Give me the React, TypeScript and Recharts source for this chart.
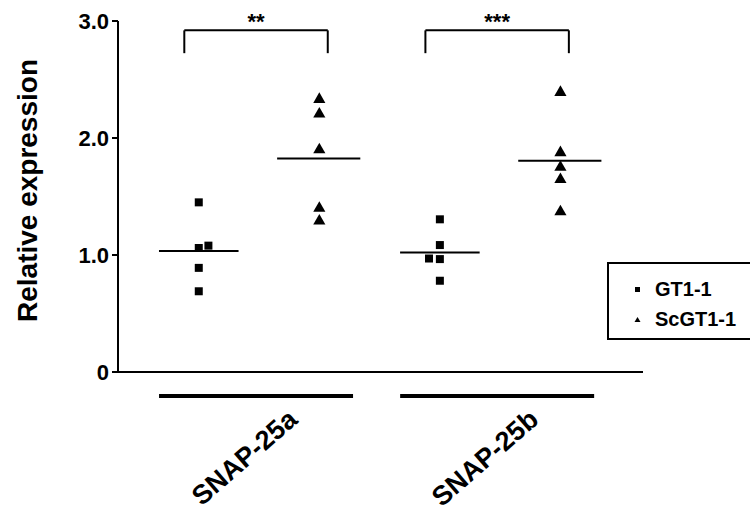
import React from "react";
import {
  ScatterChart,
  Scatter,
  XAxis,
  YAxis,
  ReferenceLine,
  ReferenceDot,
  Legend,
} from "recharts";

// ---- data ----
const categories = ["SNAP-25a", "SNAP-25b"];
const seriesNames = ["GT1-1", "ScGT1-1"];
const gt1Values = [
  [1.45, 1.06, 1.08, 0.89, 0.69],
  [1.305, 1.085, 0.965, 0.97, 0.78],
];
const scgt1Values = [
  [2.33, 2.205, 1.9, 1.4, 1.29],
  [2.39, 1.875, 1.75, 1.645, 1.37],
];
const gt1Jitter = [
  [0, 0, 0.08, 0, 0],
  [0, 0, 0, -0.09, 0],
];
const significance = ["**", "***"];
const yTicks = [0, 1, 2, 3];

// ---- layout helpers ----
const FONT = "'Liberation Sans', Arial, Helvetica, sans-serif";
const groupX = (g: number, s: number) => 1 + 2 * g + s;
const mean = (a: number[]) => a.reduce((p, c) => p + c, 0) / a.length;

const gt1Points = gt1Values.flatMap((vals, g) =>
  vals.map((v, i) => ({ x: groupX(g, 0) + gt1Jitter[g][i], y: v }))
);
const scgt1Points = scgt1Values.flatMap((vals, g) =>
  vals.map((v) => ({ x: groupX(g, 1), y: v }))
);
const categoryTicks = categories.map((_, g) => (groupX(g, 0) + groupX(g, 1)) / 2);

const BRACKET_TOP = 2.92;
const BRACKET_BOTTOM = 2.725;

const CategoryTick = (props: any) => {
  const { x, y, payload } = props;
  const idx = categoryTicks.findIndex((t) => Math.abs(t - payload.value) < 1e-6);
  const label = categories[idx] ?? "";
  const ax = x + 40;
  const ay = y + 50;
  return (
    <g>
      <line x1={x - 100} x2={x + 94} y1={y + 24} y2={y + 24} stroke="#000" strokeWidth={4} />
      <text
        x={ax}
        y={ay}
        textAnchor="end"
        transform={`rotate(-41 ${ax} ${ay})`}
        fontFamily={FONT}
        fontWeight="bold"
        fontSize={27}
        fill="#000"
      >
        {label}
      </text>
    </g>
  );
};

const YLabel = (props: any) => {
  const vb = props.viewBox || { x: 0, y: 0, width: 0, height: 0 };
  const cx = 27;
  const cy = vb.y + vb.height / 2 - 6;
  return (
    <text
      x={cx}
      y={cy}
      textAnchor="middle"
      dominantBaseline="central"
      transform={`rotate(-90 ${cx} ${cy})`}
      fontFamily={FONT}
      fontWeight="bold"
      fontSize={28}
      fill="#000"
    >
      Relative expression
    </text>
  );
};

const LegendBox = () => (
  <div
    style={{
      width: 160,
      height: 78,
      border: "2px solid #000",
      boxSizing: "border-box",
      fontFamily: FONT,
      fontWeight: "bold",
      fontSize: 20,
      color: "#000",
      paddingTop: 10,
      paddingLeft: 22,
      lineHeight: "30px",
      background: "#fff",
    }}
  >
    {seriesNames.map((n, i) => (
      <div key={n} style={{ display: "flex", alignItems: "center" }}>
        <svg width={24} height={20} style={{ display: "block" }}>
          {i === 0 ? (
            <rect x={4} y={8} width={5} height={5} fill="#000" />
          ) : (
            <polygon points="6.5,8 9.5,13 3.5,13" fill="#000" />
          )}
        </svg>
        <span>{n}</span>
      </div>
    ))}
  </div>
);

export default function App() {
  return (
    <div style={{ position: "absolute", left: 0, top: 0, width: 750, height: 514, background: "#fff" }}>
      <ScatterChart
        width={750}
        height={514}
        margin={{ top: 21, right: 107, bottom: 12, left: 0 }}
      >
        <XAxis
          type="number"
          dataKey="x"
          domain={[0.33, 4.685]}
          ticks={categoryTicks}
          tick={<CategoryTick />}
          tickLine={false}
          tickSize={0}
          tickMargin={0}
          axisLine={{ stroke: "#000", strokeWidth: 2 }}
          height={130}
          allowDataOverflow
          interval={0}
        />
        <YAxis
          type="number"
          dataKey="y"
          domain={[0, 3]}
          ticks={yTicks}
          width={118}
          tickFormatter={(v: number) => (v === 0 ? "0" : v.toFixed(1))}
          tick={{ fill: "#000", fontFamily: FONT, fontWeight: "bold", fontSize: 22 }}
          tickLine={{ stroke: "#000", strokeWidth: 2 }}
          tickSize={6}
          tickMargin={3}
          axisLine={{ stroke: "#000", strokeWidth: 2 }}
          label={<YLabel />}
        />
        <Legend
          content={<LegendBox />}
          layout="vertical"
          verticalAlign="middle"
          align="center"
          wrapperStyle={{ position: "absolute", left: 607, top: 262, width: 160 }}
        />
        {categories.map((c, g) => {
          const mGt = mean(gt1Values[g]);
          const mSc = mean(scgt1Values[g]);
          const x0 = groupX(g, 0);
          const x1 = groupX(g, 1);
          const bl = x0 - 0.12;
          const br = x1 + 0.07;
          return (
            <React.Fragment key={c}>
              <ReferenceLine
                segment={[{ x: x0 - 0.33, y: mGt }, { x: x0 + 0.33, y: mGt }]}
                stroke="#000"
                strokeWidth={2}
              />
              <ReferenceLine
                segment={[{ x: x1 - 0.35, y: mSc }, { x: x1 + 0.34, y: mSc }]}
                stroke="#000"
                strokeWidth={2}
              />
              <ReferenceLine segment={[{ x: bl, y: BRACKET_BOTTOM }, { x: bl, y: BRACKET_TOP }]} stroke="#000" strokeWidth={2} />
              <ReferenceLine segment={[{ x: bl, y: BRACKET_TOP }, { x: br, y: BRACKET_TOP }]} stroke="#000" strokeWidth={2} />
              <ReferenceLine segment={[{ x: br, y: BRACKET_TOP }, { x: br, y: BRACKET_BOTTOM }]} stroke="#000" strokeWidth={2} />
              <ReferenceDot
                x={(bl + br) / 2}
                y={3.0}
                r={0}
                ifOverflow="visible"
                stroke="none"
                fill="none"
                label={{
                  value: significance[g],
                  position: "center",
                  fill: "#000",
                  fontFamily: FONT,
                  fontWeight: "bold",
                  fontSize: 22,
                }}
              />
            </React.Fragment>
          );
        })}
        <Scatter
          name={seriesNames[0]}
          data={gt1Points}
          shape="square"
          size={50}
          fill="#000"
          isAnimationActive={false}
        />
        <Scatter
          name={seriesNames[1]}
          data={scgt1Points}
          shape="triangle"
          size={24}
          fill="#000"
          isAnimationActive={false}
        />
      </ScatterChart>
    </div>
  );
}
